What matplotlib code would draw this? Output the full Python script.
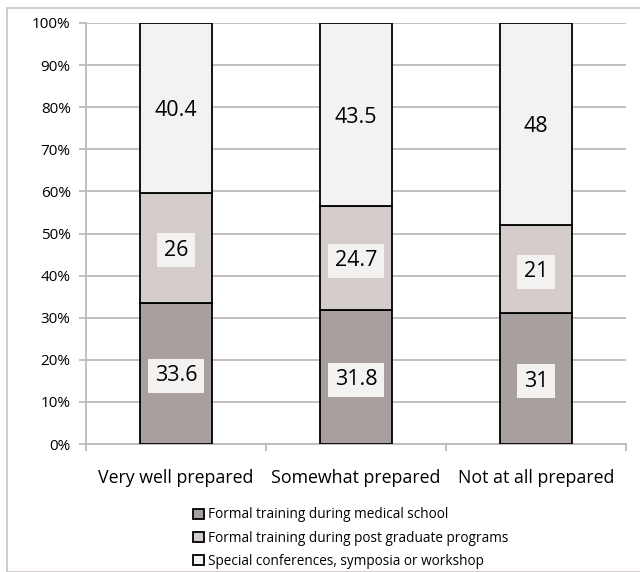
import matplotlib
matplotlib.use("Agg")
import matplotlib.pyplot as plt
from matplotlib.patches import Rectangle
import numpy as np

categories = ["Very well prepared", "Somewhat prepared", "Not at all prepared"]
series_names = ["Formal training during medical school",
                "Formal training during post graduate programs",
                "Special conferences, symposia or workshop"]
medical_school = [33.6, 31.8, 31]
post_graduate = [26, 24.7, 21]
conferences = [40.4, 43.5, 48]
yticks = [0, 10, 20, 30, 40, 50, 60, 70, 80, 90, 100]

colors = ["#a8a09e", "#d3cccb", "#f4f2f1"]
plt.rcParams['font.family'] = ['Open Sans', 'DejaVu Sans']

fig = plt.figure(figsize=(6.4, 5.72), dpi=100)
W, H = 640, 572
ax = fig.add_axes([86 / W, 1 - 444 / H, (626 - 86) / W, (444 - 23) / H])

x = np.arange(len(categories))
series = [medical_school, post_graduate, conferences]
totals = np.sum(series, axis=0)
bottom = np.zeros(len(categories))
for vals, col, name in zip(series, colors, series_names):
    pct = np.array(vals) / totals * 100
    ax.bar(x, pct, bottom=bottom, width=0.4, color=col, edgecolor="black",
           linewidth=1.3, label=name, zorder=3)
    for xi, b, p, v in zip(x, bottom, pct, vals):
        ax.text(xi, b + p / 2, f"{v:g}", ha="center", va="center_baseline", fontsize=15.5,
                color="black", zorder=4,
                bbox=dict(boxstyle="square,pad=0.3", fc="#f4f2f1", ec="none"))
    bottom += pct

ax.set_xlim(-0.5, 2.5)
ax.set_ylim(0, 100)
ax.set_yticks(yticks)
ax.set_yticklabels([f"{t}%" for t in yticks], fontsize=11)
ax.yaxis.grid(True, color="#bfbaba", linewidth=1.3, zorder=0)
ax.set_xticks(x)
ax.set_xticklabels(categories, fontsize=12.8)
ax.tick_params(axis="x", length=0, pad=18)
ax.set_xticks([-0.5, 0.5, 1.5, 2.5], minor=True)
ax.tick_params(axis="x", which="minor", length=5, color="#bfbaba", width=1.3)
ax.tick_params(axis="y", length=5, color="#bfbaba", width=1.3, pad=6)
for s in ["top", "right"]:
    ax.spines[s].set_visible(False)
for s in ["left", "bottom"]:
    ax.spines[s].set_color("#bfbaba")
    ax.spines[s].set_linewidth(1.3)

handles, labels = ax.get_legend_handles_labels()
leg = fig.legend(handles, labels, loc="upper left", bbox_to_anchor=(188 / W, 1 - 502 / H),
                 frameon=False, fontsize=9.8, handlelength=0.8, handleheight=0.8,
                 handletextpad=0.3, labelspacing=0.6, borderaxespad=0)

fig.patches.append(Rectangle((7 / W, 0), 1 - 7 / W + 0.01, 1 - 8 / H, transform=fig.transFigure,
                             fill=False, ec="#c8c4c4", lw=1.2))
fig.savefig("out.png", dpi=100)
